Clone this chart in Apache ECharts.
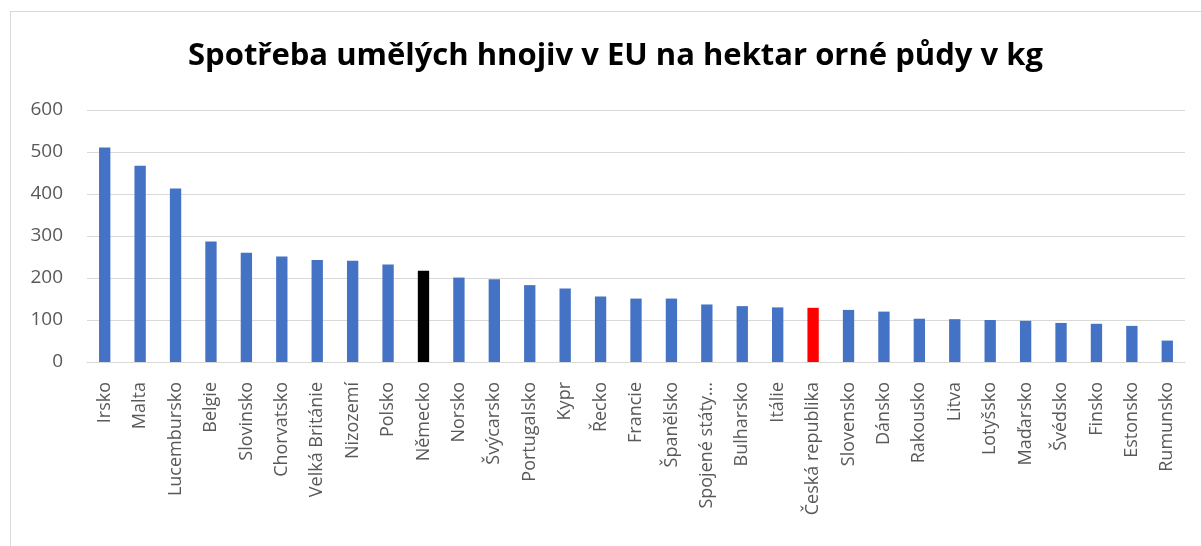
<!DOCTYPE html>
<html>
<head>
<meta charset="utf-8">
<script src="https://cdn.jsdelivr.net/npm/echarts@6/dist/echarts.min.js"></script>
<style>
  html, body { margin: 0; padding: 0; background: #fff; }
  #frame { position: absolute; left: 10px; top: 11px; width: 1200px; height: 545px; border: 1px solid #d9d9d9; box-sizing: border-box; }
  #chart { position: absolute; left: 0; top: 0; width: 1201px; height: 546px; }
</style>
</head>
<body>
<div id="frame"></div>
<div id="chart"></div>
<script>
const categories = ["Irsko", "Malta", "Lucembursko", "Belgie", "Slovinsko", "Chorvatsko", "Velká Británie", "Nizozemí", "Polsko", "Německo", "Norsko", "Švýcarsko", "Portugalsko", "Kypr", "Řecko", "Francie", "Španělsko", "Spojené státy…", "Bulharsko", "Itálie", "Česká republika", "Slovensko", "Dánsko", "Rakousko", "Litva", "Lotyšsko", "Maďarsko", "Švédsko", "Finsko", "Estonsko", "Rumunsko"];
const values = [511, 467, 413, 287, 260, 251, 243, 241, 232, 217, 201, 197, 183, 175, 156, 151, 151, 137, 133, 130, 129, 124, 120, 103, 102, 100, 98, 93, 91, 86, 51];
const yTicks = [0, 100, 200, 300, 400, 500, 600];
const highlight = { "Německo": "#000000", "Česká republika": "#ff0000" };

const chart = echarts.init(document.getElementById('chart'));
chart.setOption({
  backgroundColor: 'transparent',
  animation: false,
  title: {
    text: 'Spotřeba umělých hnojiv v EU na hektar orné půdy v kg',
    left: 183,
    top: 36,
    textStyle: { fontFamily: 'Open Sans', fontWeight: 'bold', fontSize: 31, color: '#000000' }
  },
  grid: { left: 87, right: 16, top: 110, bottom: 184 },
  xAxis: {
    type: 'category',
    data: categories,
    axisLine: { lineStyle: { color: '#d9d9d9', width: 1 } },
    axisTick: { show: false },
    axisLabel: { rotate: 90, interval: 0, margin: 20, color: '#595959', fontFamily: 'Open Sans', fontSize: 18 }
  },
  yAxis: {
    type: 'value',
    min: yTicks[0],
    max: yTicks[yTicks.length - 1],
    interval: 100,
    axisLine: { show: false },
    axisTick: { show: false },
    axisLabel: { color: '#595959', fontFamily: 'Open Sans', fontSize: 19, margin: 24 },
    splitLine: { lineStyle: { color: '#d9d9d9', width: 1 } }
  },
  series: [{
    type: 'bar',
    data: values,
    barWidth: '32%',
    itemStyle: {
      color: p => highlight[p.name] || '#4472c4'
    }
  }]
});
</script>
</body>
</html>
